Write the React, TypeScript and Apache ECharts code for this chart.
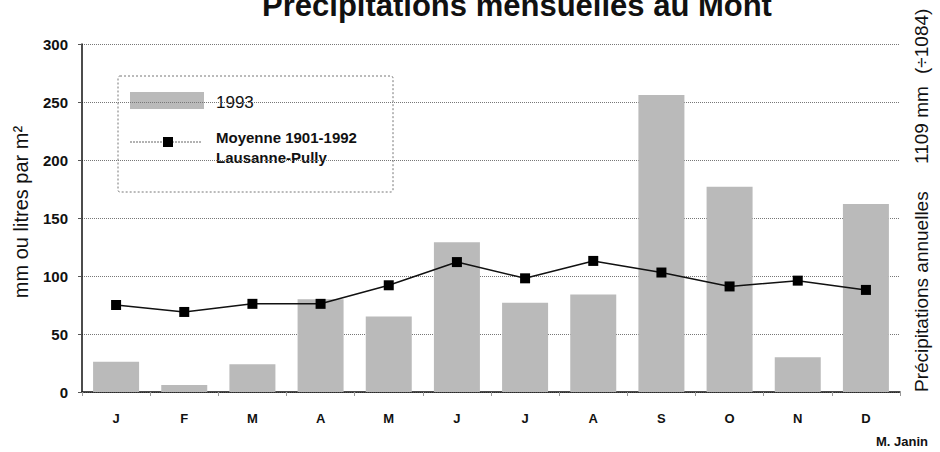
import React, { useEffect, useRef } from "react";
import * as echarts from "echarts";

const months = ["J", "F", "M", "A", "M", "J", "J", "A", "S", "O", "N", "D"];
const rain1993 = [26, 6, 24, 80, 65, 129, 77, 84, 256, 177, 30, 162];
const mean1901_1992 = [75, 69, 76, 76, 92, 112, 98, 113, 103, 91, 96, 88];
const yTicks = { min: 0, max: 300, interval: 50 };

const FONT = "Liberation Sans, Arial, sans-serif";

export default function App() {
  const ref = useRef<HTMLDivElement>(null);
  useEffect(() => {
    if (!ref.current) return;
    const chart = echarts.init(ref.current, undefined, { renderer: "svg" });
    chart.setOption({
      animation: false,
      backgroundColor: "#ffffff",
      textStyle: { fontFamily: FONT },
      grid: { left: 82, right: 40, top: 44, bottom: 60 },
      xAxis: {
        type: "category",
        data: months,
        axisLine: { lineStyle: { color: "#111", width: 1.5 } },
        axisTick: { show: true, length: 4, lineStyle: { color: "#999" } },
        axisLabel: { margin: 20, fontWeight: "bold", fontSize: 13, color: "#111", fontFamily: FONT },
      },
      yAxis: {
        type: "value",
        min: yTicks.min,
        max: yTicks.max,
        interval: yTicks.interval,
        axisLine: { show: true, lineStyle: { color: "#111", width: 1.5 } },
        axisTick: { show: true, length: 4, lineStyle: { color: "#555" } },
        axisLabel: { margin: 14, fontWeight: "bold", fontSize: 15, color: "#111", fontFamily: FONT },
        splitLine: { lineStyle: { color: "#777", type: "dotted", width: 1 } },
      },
      series: [
        {
          name: "1993",
          type: "bar",
          data: rain1993,
          barWidth: 46,
          itemStyle: { color: "#bababa" },
          z: 2,
        },
        {
          name: "Moyenne 1901-1992 Lausanne-Pully",
          type: "line",
          data: mean1901_1992,
          symbol: "rect",
          symbolSize: 10,
          lineStyle: { color: "#111", width: 1.5 },
          itemStyle: { color: "#000" },
          z: 3,
        },
      ],
      graphic: [
        {
          type: "text",
          x: 517,
          y: 5,
          style: {
            text: "Précipitations mensuelles au Mont",
            font: `bold 31px ${FONT}`,
            fill: "#111",
            align: "center",
            verticalAlign: "middle",
          },
        },
        {
          type: "text",
          x: 21,
          y: 212,
          rotation: Math.PI / 2,
          style: {
            text: "mm ou litres par m²",
            font: `20px ${FONT}`,
            fill: "#111",
            align: "center",
            verticalAlign: "middle",
          },
        },
        {
          type: "text",
          x: 921,
          y: 392,
          rotation: Math.PI / 2,
          style: { text: "Précipitations annuelles", font: `19px ${FONT}`, fill: "#111", align: "left", verticalAlign: "middle" },
        },
        {
          type: "text",
          x: 921,
          y: 164,
          rotation: Math.PI / 2,
          style: { text: "1109 mm", font: `19px ${FONT}`, fill: "#111", align: "left", verticalAlign: "middle" },
        },
        {
          type: "text",
          x: 921,
          y: 74,
          rotation: Math.PI / 2,
          style: { text: "(÷1084)", font: `19px ${FONT}`, fill: "#111", align: "left", verticalAlign: "middle" },
        },
        {
          type: "text",
          x: 928,
          y: 441,
          style: { text: "M. Janin", font: `bold 13px ${FONT}`, fill: "#111", align: "right", verticalAlign: "middle" },
        },
        {
          type: "group",
          z: 10,
          children: [
            {
              type: "rect",
              shape: { x: 118, y: 76, width: 275, height: 116, r: 2 },
              style: { fill: "#fff", stroke: "#777", lineWidth: 1, lineDash: [2, 2] },
            },
            {
              type: "rect",
              shape: { x: 130, y: 92, width: 74, height: 17 },
              style: { fill: "#bababa" },
            },
            {
              type: "text",
              x: 216,
              y: 102,
              style: { text: "1993", font: `17px ${FONT}`, fill: "#111", align: "left", verticalAlign: "middle" },
            },
            {
              type: "line",
              shape: { x1: 130, y1: 142, x2: 202, y2: 142 },
              style: { stroke: "#666", lineWidth: 1, lineDash: [2, 1] },
            },
            {
              type: "rect",
              shape: { x: 163, y: 137, width: 10, height: 10 },
              style: { fill: "#000" },
            },
            {
              type: "text",
              x: 216,
              y: 137,
              style: { text: "Moyenne 1901-1992", font: `bold 15px ${FONT}`, fill: "#111", align: "left", verticalAlign: "middle" },
            },
            {
              type: "text",
              x: 216,
              y: 157,
              style: { text: "Lausanne-Pully", font: `bold 15px ${FONT}`, fill: "#111", align: "left", verticalAlign: "middle" },
            },
          ],
        },
      ],
    });
    return () => chart.dispose();
  }, []);
  return (
    <div
      ref={ref}
      style={{ position: "fixed", left: 0, top: 0, width: 940, height: 452 }}
    />
  );
}
